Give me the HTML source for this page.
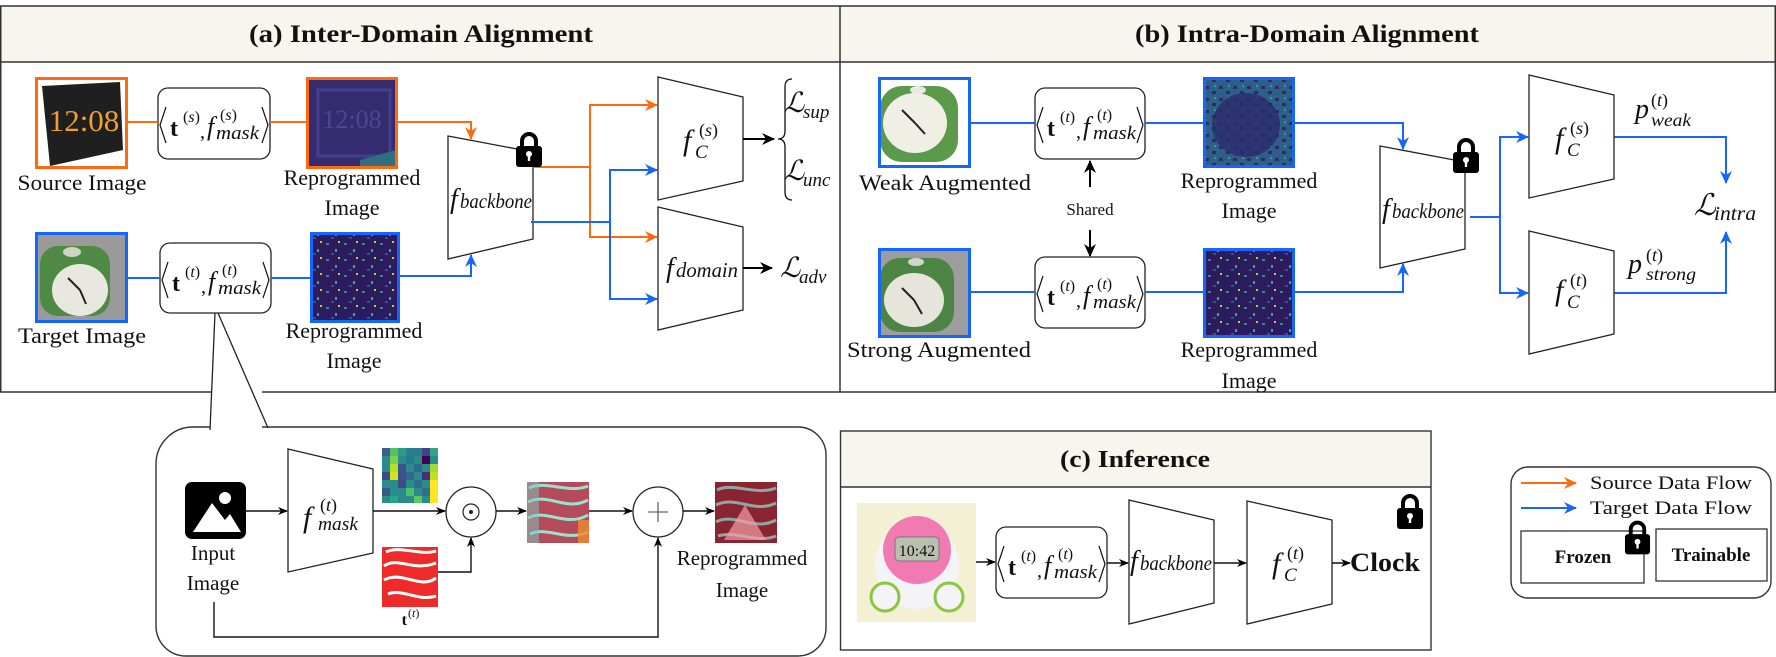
<!DOCTYPE html>
<html><head><meta charset="utf-8"><style>
html,body{margin:0;padding:0;background:#fff}
svg{display:block}
text{font-family:"Liberation Serif","DejaVu Serif",serif;fill:#111}
.i{font-style:italic}
.b{font-weight:bold}
</style></head><body>
<svg width="1776" height="657" viewBox="0 0 1776 657" xmlns="http://www.w3.org/2000/svg">
<defs>
<marker id="ao" markerUnits="userSpaceOnUse" markerWidth="14" markerHeight="12" refX="12" refY="6" orient="auto"><path d="M0,0 L13,6 L0,12 L4,6 z" fill="#ff6a10"/></marker>
<marker id="ab" markerUnits="userSpaceOnUse" markerWidth="14" markerHeight="12" refX="12" refY="6" orient="auto"><path d="M0,0 L13,6 L0,12 L4,6 z" fill="#1466ff"/></marker>
<marker id="ak" markerUnits="userSpaceOnUse" markerWidth="14" markerHeight="12" refX="12" refY="6" orient="auto"><path d="M0,0 L13,6 L0,12 L4,6 z" fill="#000"/></marker>
<marker id="ak2" markerUnits="userSpaceOnUse" markerWidth="10" markerHeight="8" refX="9" refY="4" orient="auto"><path d="M0,0 L10,4 L0,8 L3,4 z" fill="#000"/></marker>
<symbol id="lock" viewBox="0 0 28 36"><path d="M7,17 V10 A7,7 0 0 1 21,10 V17" fill="none" stroke="#000" stroke-width="4"/><rect x="1" y="15" width="26" height="21" rx="3" fill="#000"/><circle cx="14" cy="23" r="3" fill="#fff"/><rect x="12.8" y="23" width="2.4" height="7" fill="#fff"/></symbol>
<pattern id="spk" width="18" height="16" patternUnits="userSpaceOnUse"><rect width="18" height="16" fill="#2c1b5e"/><rect x="2" y="3" width="3" height="2" fill="#2f8a8c"/><rect x="11" y="9" width="2" height="3" fill="#3aa88a"/><rect x="7" y="13" width="3" height="2" fill="#24607e"/><rect x="14" y="1" width="2" height="2" fill="#b8d830"/></pattern>
<pattern id="spk2" width="14" height="12" patternUnits="userSpaceOnUse"><rect width="14" height="12" fill="#2e5f86"/><rect x="1" y="2" width="4" height="3" fill="#2b2a6a"/><rect x="8" y="7" width="4" height="3" fill="#2b2a6a"/><rect x="10" y="1" width="2" height="2" fill="#3c9a90"/></pattern>
</defs>

<rect x="0" y="6" width="1776" height="56" fill="#f7f5ee"/>
<rect x="0.75" y="6" width="1774.5" height="386" fill="none" stroke="#333" stroke-width="1.5"/>
<line x1="0" y1="62" x2="1776" y2="62" stroke="#333" stroke-width="1.5"/>
<line x1="840" y1="6" x2="840" y2="392" stroke="#333" stroke-width="1.5"/>
<text x="421" y="42" class="b" font-size="25" text-anchor="middle" textLength="344" lengthAdjust="spacingAndGlyphs">(a) Inter-Domain Alignment</text>
<text x="1307" y="42" class="b" font-size="25" text-anchor="middle" textLength="344" lengthAdjust="spacingAndGlyphs">(b) Intra-Domain Alignment</text>

<!-- Panel (a) -->
<rect x="35" y="77" width="93" height="92" fill="#fff"/>
<path d="M42,86 L120,82 L123,150 L50,166 Z" fill="#1f1f1f"/>
<text x="84" y="131" font-size="31" font-family="Liberation Sans" text-anchor="middle" style="fill:#f0a030">12:08</text>
<rect x="36.5" y="78.5" width="90" height="89" fill="none" stroke="#ff6a10" stroke-width="3"/>
<text x="82" y="190" font-size="22" text-anchor="middle" textLength="129" lengthAdjust="spacingAndGlyphs">Source Image</text>
<g transform="translate(158,88)">
<rect x="0" y="0" width="112" height="71" rx="10" fill="#fff" stroke="#222" stroke-width="1.3"/>
<polyline points="8,19 2,37 8,55" fill="none" stroke="#111" stroke-width="1.2"/><polyline points="104,19 110,37 104,55" fill="none" stroke="#111" stroke-width="1.2"/>
<text x="12" y="48" font-size="24" class="b">t</text><text x="25" y="34" font-size="16">(<tspan class="i">s</tspan>)</text>
<text x="42" y="50" font-size="20">,</text><text x="49" y="47" font-size="26" class="i">f</text>
<text x="62" y="32" font-size="16">(<tspan class="i">s</tspan>)</text><text x="58" y="51" font-size="19" class="i" textLength="43" lengthAdjust="spacingAndGlyphs">mask</text>
</g>
<rect x="306" y="77" width="92" height="92" fill="#352c70"/>
<rect x="318" y="90" width="72" height="66" fill="none" stroke="#463f8c" stroke-width="3"/>
<text x="352" y="128" font-size="26" font-family="Liberation Sans" text-anchor="middle" style="fill:#4d4596">12:08</text>
<path d="M360,160 L396,150 L396,167 L360,167 Z" fill="#2f6f80"/>
<rect x="307.5" y="78.5" width="89" height="89" fill="none" stroke="#ff6a10" stroke-width="3"/>
<text x="352" y="185" font-size="22" text-anchor="middle">Reprogrammed</text>
<text x="352" y="215" font-size="22" text-anchor="middle">Image</text>
<rect x="35" y="232" width="93" height="91" fill="#9a9a9a"/>
<rect x="40" y="246" width="70" height="70" rx="18" fill="#4f8a45"/>
<ellipse cx="80" cy="290" rx="28" ry="26" fill="#e9e8e0"/>
<ellipse cx="72" cy="252" rx="9" ry="5" fill="#cfd6c8"/>
<line x1="80" y1="290" x2="68" y2="278" stroke="#222" stroke-width="2"/><line x1="80" y1="290" x2="86" y2="304" stroke="#222" stroke-width="2"/>
<rect x="36.5" y="233.5" width="90" height="88" fill="none" stroke="#1466ff" stroke-width="3"/>
<text x="82" y="343" font-size="22" text-anchor="middle" textLength="128" lengthAdjust="spacingAndGlyphs">Target Image</text>
<g transform="translate(160,243)">
<rect x="0" y="0" width="111" height="70" rx="10" fill="#fff" stroke="#222" stroke-width="1.3"/>
<polyline points="8,19 2,37 8,55" fill="none" stroke="#111" stroke-width="1.2"/><polyline points="103,19 109,37 103,55" fill="none" stroke="#111" stroke-width="1.2"/>
<text x="12" y="48" font-size="24" class="b">t</text><text x="25" y="34" font-size="16">(<tspan class="i">t</tspan>)</text>
<text x="41" y="50" font-size="20">,</text><text x="48" y="47" font-size="26" class="i">f</text>
<text x="62" y="32" font-size="16">(<tspan class="i">t</tspan>)</text><text x="58" y="51" font-size="19" class="i" textLength="43" lengthAdjust="spacingAndGlyphs">mask</text>
</g>
<rect x="310" y="232" width="90" height="91" fill="url(#spk)"/>
<rect x="311.5" y="233.5" width="87" height="88" fill="none" stroke="#1466ff" stroke-width="3"/>
<text x="354" y="338" font-size="22" text-anchor="middle">Reprogrammed</text>
<text x="354" y="368" font-size="22" text-anchor="middle">Image</text>

<g fill="none" stroke-width="2">
<path d="M128,122 H158 M270,122 H306" stroke="#ff6a10"/>
<path d="M398,122 H471 V139" stroke="#ff6a10" marker-end="url(#ao)"/>
<path d="M128,278 H160 M271,278 H310" stroke="#1466ff"/>
<path d="M400,276 H471 V255" stroke="#1466ff" marker-end="url(#ab)"/>
</g>
<polygon points="448,136 533,152 533,239 448,259" fill="#fff" stroke="#222" stroke-width="1.3"/>
<text x="450" y="208" font-size="28" class="i">f</text><text x="460" y="208" font-size="21" class="i" textLength="72" lengthAdjust="spacingAndGlyphs">backbone</text>
<g fill="none" stroke-width="2">
<path d="M533,167 H590 V105 H657" stroke="#ff6a10" marker-end="url(#ao)"/>
<path d="M590,167 V237 H657" stroke="#ff6a10" marker-end="url(#ao)"/>
<path d="M531,222 H610 V170 H657" stroke="#1466ff" marker-end="url(#ab)"/>
<path d="M610,222 V299 H657" stroke="#1466ff" marker-end="url(#ab)"/>
</g>
<use href="#lock" x="515" y="131" width="28" height="36"/>
<polygon points="658,77 743,97 743,181 658,200" fill="#fff" stroke="#222" stroke-width="1.3"/>
<text x="683" y="150" font-size="30" class="i">f</text><text x="699" y="136" font-size="18">(<tspan class="i">s</tspan>)</text><text x="695" y="158" font-size="19" class="i">C</text>
<polygon points="658,207 743,227 743,310 658,330" fill="#fff" stroke="#222" stroke-width="1.3"/>
<text x="666" y="277" font-size="28" class="i">f</text><text x="676" y="277" font-size="21" class="i" textLength="62" lengthAdjust="spacingAndGlyphs">domain</text>
<path d="M743,139 H774" stroke="#000" stroke-width="2" marker-end="url(#ak)"/>
<path d="M743,268 H772" stroke="#000" stroke-width="2" marker-end="url(#ak)"/>
<path d="M792,79 Q785,79 785,87 L785,131 Q785,139 778,139 Q785,139 785,147 L785,192 Q785,200 792,200" fill="none" stroke="#111" stroke-width="1.3"/>
<text x="784" y="112" font-size="28" class="i">ℒ</text><text x="803" y="118" font-size="19" class="i">sup</text>
<text x="784" y="180" font-size="28" class="i">ℒ</text><text x="803" y="186" font-size="19" class="i">unc</text>
<text x="780" y="277" font-size="28" class="i">ℒ</text><text x="799" y="283" font-size="19" class="i">adv</text>

<!-- Panel (b) -->
<rect x="878" y="77" width="93" height="91" fill="#fff"/>
<rect x="880" y="86" width="78" height="76" rx="22" fill="#5a9a4a"/>
<ellipse cx="915" cy="123" rx="32" ry="30" fill="#f0efe6"/>
<ellipse cx="918" cy="90" rx="8" ry="4" fill="#e6eadf"/>
<line x1="915" y1="123" x2="902" y2="110" stroke="#222" stroke-width="2"/><line x1="915" y1="123" x2="925" y2="134" stroke="#222" stroke-width="2"/>
<rect x="879.5" y="78.5" width="90" height="88" fill="none" stroke="#1466ff" stroke-width="3"/>
<text x="1031" y="190" font-size="22" text-anchor="end" textLength="172" lengthAdjust="spacingAndGlyphs">Weak Augmented</text>
<g transform="translate(1035,88)">
<rect x="0" y="0" width="110" height="71" rx="10" fill="#fff" stroke="#222" stroke-width="1.3"/>
<polyline points="8,19 2,37 8,55" fill="none" stroke="#111" stroke-width="1.2"/><polyline points="102,19 108,37 102,55" fill="none" stroke="#111" stroke-width="1.2"/>
<text x="12" y="48" font-size="24" class="b">t</text><text x="25" y="34" font-size="16">(<tspan class="i">t</tspan>)</text>
<text x="41" y="50" font-size="20">,</text><text x="48" y="47" font-size="26" class="i">f</text>
<text x="62" y="32" font-size="16">(<tspan class="i">t</tspan>)</text><text x="58" y="51" font-size="19" class="i" textLength="43" lengthAdjust="spacingAndGlyphs">mask</text>
</g>
<path d="M1090,187 V161" stroke="#000" stroke-width="2" marker-end="url(#ak)"/>
<text x="1090" y="215" font-size="17" text-anchor="middle">Shared</text>
<path d="M1090,230 V256" stroke="#000" stroke-width="2" marker-end="url(#ak)"/>
<g transform="translate(1035,257)">
<rect x="0" y="0" width="110" height="71" rx="10" fill="#fff" stroke="#222" stroke-width="1.3"/>
<polyline points="8,19 2,37 8,55" fill="none" stroke="#111" stroke-width="1.2"/><polyline points="102,19 108,37 102,55" fill="none" stroke="#111" stroke-width="1.2"/>
<text x="12" y="48" font-size="24" class="b">t</text><text x="25" y="34" font-size="16">(<tspan class="i">t</tspan>)</text>
<text x="41" y="50" font-size="20">,</text><text x="48" y="47" font-size="26" class="i">f</text>
<text x="62" y="32" font-size="16">(<tspan class="i">t</tspan>)</text><text x="58" y="51" font-size="19" class="i" textLength="43" lengthAdjust="spacingAndGlyphs">mask</text>
</g>
<rect x="1203" y="77" width="92" height="91" fill="url(#spk2)"/>
<ellipse cx="1246" cy="125" rx="34" ry="32" fill="#2c2a6c" opacity="0.8"/>
<rect x="1204.5" y="78.5" width="89" height="88" fill="none" stroke="#1466ff" stroke-width="3"/>
<text x="1249" y="188" font-size="22" text-anchor="middle">Reprogrammed</text>
<text x="1249" y="218" font-size="22" text-anchor="middle">Image</text>
<rect x="878" y="248" width="93" height="90" fill="#9d9d9d"/>
<rect x="880" y="258" width="74" height="74" rx="20" fill="#4c8444"/>
<ellipse cx="914" cy="300" rx="30" ry="27" fill="#e6e5dc"/>
<ellipse cx="916" cy="262" rx="8" ry="4" fill="#d0d6c8"/>
<line x1="914" y1="300" x2="902" y2="288" stroke="#222" stroke-width="2"/><line x1="914" y1="300" x2="922" y2="314" stroke="#222" stroke-width="2"/>
<rect x="879.5" y="249.5" width="90" height="87" fill="none" stroke="#1466ff" stroke-width="3"/>
<text x="1031" y="357" font-size="22" text-anchor="end" textLength="184" lengthAdjust="spacingAndGlyphs">Strong Augmented</text>
<rect x="1203" y="248" width="92" height="90" fill="url(#spk)"/>
<rect x="1204.5" y="249.5" width="89" height="87" fill="none" stroke="#1466ff" stroke-width="3"/>
<text x="1249" y="357" font-size="22" text-anchor="middle">Reprogrammed</text>
<text x="1249" y="388" font-size="22" text-anchor="middle">Image</text>
<g fill="none" stroke-width="2" stroke="#1466ff">
<path d="M971,123 H1035 M1145,123 H1203 M971,292 H1035 M1145,292 H1203"/>
<path d="M1295,123 H1403 V149" marker-end="url(#ab)"/>
<path d="M1295,292 H1403 V264" marker-end="url(#ab)"/>
</g>
<polygon points="1380,146 1465,162 1465,249 1380,268" fill="#fff" stroke="#222" stroke-width="1.3"/>
<text x="1382" y="218" font-size="28" class="i">f</text><text x="1392" y="218" font-size="21" class="i" textLength="72" lengthAdjust="spacingAndGlyphs">backbone</text>
<use href="#lock" x="1452" y="137" width="28" height="36"/>
<g fill="none" stroke-width="2" stroke="#1466ff">
<path d="M1470,217 H1500 V137 H1528" marker-end="url(#ab)"/>
<path d="M1500,217 V293 H1528" marker-end="url(#ab)"/>
<path d="M1614,137 H1726 V183" marker-end="url(#ab)"/>
<path d="M1614,293 H1726 V232" marker-end="url(#ab)"/>
</g>
<polygon points="1529,75 1614,95 1614,179 1529,198" fill="#fff" stroke="#222" stroke-width="1.3"/>
<text x="1555" y="148" font-size="30" class="i">f</text><text x="1570" y="134" font-size="18">(<tspan class="i">s</tspan>)</text><text x="1567" y="156" font-size="19" class="i">C</text>
<polygon points="1529,231 1614,251 1614,334 1529,354" fill="#fff" stroke="#222" stroke-width="1.3"/>
<text x="1555" y="300" font-size="30" class="i">f</text><text x="1570" y="286" font-size="18">(<tspan class="i">t</tspan>)</text><text x="1567" y="308" font-size="19" class="i">C</text>
<text x="1635" y="118" font-size="28" class="i">p</text><text x="1651" y="106" font-size="18">(<tspan class="i">t</tspan>)</text><text x="1651" y="126" font-size="18" class="i" textLength="40" lengthAdjust="spacingAndGlyphs">weak</text>
<text x="1628" y="273" font-size="28" class="i">p</text><text x="1646" y="261" font-size="18">(<tspan class="i">t</tspan>)</text><text x="1646" y="280" font-size="18" class="i" textLength="50" lengthAdjust="spacingAndGlyphs">strong</text>
<text x="1694" y="215" font-size="30" class="i">ℒ</text><text x="1714" y="220" font-size="20" class="i" textLength="42" lengthAdjust="spacingAndGlyphs">intra</text>

<!-- Inset -->
<rect x="211" y="388" width="51" height="8" fill="#fff"/>
<path d="M210,427 L193,427 A37,37 0 0 0 156,464 L156,626 A30,30 0 0 0 186,656 L798,656 A28,28 0 0 0 826,628 L826,455 A28,28 0 0 0 798,427 L262,427" fill="none" stroke="#333" stroke-width="1.4"/>
<path d="M215,313 L210,430 M218,313 L268,428" stroke="#222" stroke-width="1.3" fill="none"/>
<rect x="185" y="482" width="61" height="57" rx="7" fill="#000"/>
<polygon points="193,532 212,503 225,520 230,514 241,532" fill="#fff"/>
<circle cx="225" cy="498" r="6" fill="#fff"/>
<text x="213" y="560" font-size="21" text-anchor="middle">Input</text>
<text x="213" y="590" font-size="21" text-anchor="middle">Image</text>
<polygon points="288,449 373,469 373,553 288,572" fill="#fff" stroke="#222" stroke-width="1.3"/>
<text x="303" y="527" font-size="30" class="i">f</text><text x="320" y="511" font-size="18">(<tspan class="i">t</tspan>)</text><text x="318" y="530" font-size="19" class="i" textLength="40" lengthAdjust="spacingAndGlyphs">mask</text>
<g>
<rect x="382" y="448" width="56" height="55" fill="#2a8c8a"/>
<rect x="382" y="448" width="8" height="8" fill="#3d5f8e"/><rect x="390" y="448" width="8" height="8" fill="#55c068"/><rect x="398" y="448" width="8" height="8" fill="#2b9a86"/><rect x="406" y="448" width="8" height="8" fill="#25818e"/><rect x="414" y="448" width="8" height="8" fill="#2c7b8e"/><rect x="422" y="448" width="8" height="8" fill="#414487"/><rect x="430" y="448" width="8" height="8" fill="#33a484"/>
<rect x="390" y="456" width="8" height="8" fill="#7ad151"/><rect x="406" y="456" width="8" height="8" fill="#2a788e"/><rect x="422" y="456" width="8" height="8" fill="#440154"/>
<rect x="390" y="464" width="8" height="8" fill="#b5de2b"/><rect x="398" y="464" width="8" height="8" fill="#3b528b"/><rect x="414" y="464" width="8" height="8" fill="#31688e"/><rect x="430" y="464" width="8" height="8" fill="#a0da39"/>
<rect x="382" y="472" width="8" height="8" fill="#3e4a89"/><rect x="390" y="472" width="8" height="8" fill="#d8e219"/><rect x="398" y="472" width="8" height="8" fill="#3b528b"/><rect x="406" y="472" width="8" height="8" fill="#31688e"/><rect x="422" y="472" width="8" height="8" fill="#472d7b"/><rect x="430" y="472" width="8" height="8" fill="#c2df23"/>
<rect x="398" y="480" width="8" height="8" fill="#3e4989"/><rect x="414" y="480" width="8" height="8" fill="#2f6c8e"/><rect x="430" y="480" width="8" height="8" fill="#fde725"/>
<rect x="382" y="488" width="8" height="8" fill="#38588c"/><rect x="406" y="488" width="8" height="8" fill="#4ac16d"/><rect x="422" y="488" width="8" height="8" fill="#2d708e"/><rect x="430" y="488" width="8" height="8" fill="#fde725"/>
<rect x="390" y="496" width="8" height="7" fill="#22a884"/><rect x="414" y="496" width="8" height="7" fill="#5ec962"/><rect x="430" y="496" width="8" height="7" fill="#fde725"/>
</g>
<rect x="382" y="547" width="56" height="60" fill="#ee2a2a"/>
<path d="M386,552 C400,545 420,556 436,551 M384,566 C398,556 412,572 436,563 M384,580 C402,570 420,590 436,578 M388,594 C402,588 418,602 436,596" fill="none" stroke="#fff" stroke-width="3"/>
<text x="407" y="625" font-size="16" class="b" text-anchor="end">t</text><text x="408" y="617" font-size="12">(<tspan class="i">t</tspan>)</text>
<circle cx="471" cy="512" r="25" fill="#fff" stroke="#222" stroke-width="1.3"/>
<circle cx="471" cy="512" r="8" fill="none" stroke="#222" stroke-width="1.2"/><circle cx="471" cy="512" r="2" fill="#222"/>
<rect x="527" y="482" width="62" height="61" fill="#b44a5a"/>
<path d="M529,488 C545,480 570,494 588,486 M528,502 C548,492 566,512 588,500 M528,518 C546,508 566,528 588,515 M530,534 C548,526 566,542 588,532" fill="none" stroke="#9be0d0" stroke-width="3"/>
<rect x="527" y="482" width="12" height="61" fill="#7fc8c0" opacity="0.5"/><rect x="578" y="520" width="11" height="23" fill="#f08a30" opacity="0.8"/>
<circle cx="658" cy="512" r="25" fill="#fff" stroke="#222" stroke-width="1.3"/>
<path d="M648,512 H668 M658,502 V522" stroke="#666" stroke-width="1.3"/>
<rect x="715" y="482" width="62" height="61" fill="#8a2430"/>
<path d="M717,490 C733,482 756,496 776,488 M716,505 C736,495 754,514 776,503 M716,522 C734,512 754,532 776,520 M718,536 C736,530 756,544 776,536" fill="none" stroke="#8fc8c0" stroke-width="3" opacity="0.8"/>
<polygon points="724,540 745,505 766,540" fill="#f0a0a8" opacity="0.7"/>
<text x="742" y="565" font-size="21" text-anchor="middle">Reprogrammed</text>
<text x="742" y="597" font-size="21" text-anchor="middle">Image</text>
<g fill="none" stroke="#111" stroke-width="1.4">
<path d="M246,511 H287" marker-end="url(#ak2)"/>
<path d="M373,511 H445" marker-end="url(#ak2)"/>
<path d="M438,572 H471 V538" marker-end="url(#ak2)"/>
<path d="M496,511 H526" marker-end="url(#ak2)"/>
<path d="M589,511 H632" marker-end="url(#ak2)"/>
<path d="M683,511 H714" marker-end="url(#ak2)"/>
<path d="M214,602 V637 H658 V538" marker-end="url(#ak2)"/>
</g>

<!-- (c) -->
<rect x="840" y="431" width="591" height="56" fill="#f7f5ee"/>
<rect x="840.5" y="431" width="590.5" height="219" fill="none" stroke="#333" stroke-width="1.4"/>
<line x1="840" y1="487" x2="1431" y2="487" stroke="#333" stroke-width="1.4"/>
<text x="1135" y="467" class="b" font-size="24" text-anchor="middle" textLength="150" lengthAdjust="spacingAndGlyphs">(c) Inference</text>
<rect x="857" y="503" width="119" height="119" fill="#f4f0d4"/>
<ellipse cx="917" cy="565" rx="42" ry="44" fill="#f4f4f8"/>
<circle cx="917" cy="550" r="34" fill="#f27ab2"/>
<rect x="895" y="537" width="44" height="24" rx="4" fill="#b9c0b0" stroke="#777"/>
<text x="917" y="556" font-size="16" font-family="Liberation Sans" text-anchor="middle">10:42</text>
<circle cx="885" cy="597" r="14" fill="#f4f4f8" stroke="#8cc63f" stroke-width="3"/>
<circle cx="949" cy="597" r="14" fill="#f4f4f8" stroke="#8cc63f" stroke-width="3"/>
<g transform="translate(996,527)">
<rect x="0" y="0" width="111" height="71" rx="10" fill="#fff" stroke="#222" stroke-width="1.3"/>
<polyline points="8,19 2,37 8,55" fill="none" stroke="#111" stroke-width="1.2"/><polyline points="103,19 109,37 103,55" fill="none" stroke="#111" stroke-width="1.2"/>
<text x="12" y="48" font-size="24" class="b">t</text><text x="25" y="34" font-size="16">(<tspan class="i">t</tspan>)</text>
<text x="41" y="50" font-size="20">,</text><text x="48" y="47" font-size="26" class="i">f</text>
<text x="62" y="32" font-size="16">(<tspan class="i">t</tspan>)</text><text x="58" y="51" font-size="19" class="i" textLength="43" lengthAdjust="spacingAndGlyphs">mask</text>
</g>
<polygon points="1129,500 1214,520 1214,603 1129,624" fill="#fff" stroke="#222" stroke-width="1.3"/>
<text x="1130" y="570" font-size="28" class="i">f</text><text x="1140" y="570" font-size="21" class="i" textLength="72" lengthAdjust="spacingAndGlyphs">backbone</text>
<polygon points="1247,501 1332,520 1332,604 1247,624" fill="#fff" stroke="#222" stroke-width="1.3"/>
<text x="1272" y="573" font-size="30" class="i">f</text><text x="1287" y="559" font-size="18">(<tspan class="i">t</tspan>)</text><text x="1284" y="581" font-size="19" class="i">C</text>
<g fill="none" stroke="#111" stroke-width="1.5">
<path d="M976,562 H995" marker-end="url(#ak2)"/>
<path d="M1107,563 H1128" marker-end="url(#ak2)"/>
<path d="M1214,563 H1246" marker-end="url(#ak2)"/>
<path d="M1332,563 H1350" marker-end="url(#ak2)"/>
</g>
<text x="1350" y="571" class="b" font-size="26" textLength="70" lengthAdjust="spacingAndGlyphs">Clock</text>
<use href="#lock" x="1396" y="493" width="28" height="36"/>

<!-- Legend -->
<rect x="1511" y="467" width="260" height="131" rx="17" fill="#fff" stroke="#333" stroke-width="1.4"/>
<path d="M1521,483 H1576" stroke="#ff6a10" stroke-width="2" marker-end="url(#ao)"/>
<path d="M1521,508 H1576" stroke="#1466ff" stroke-width="2" marker-end="url(#ab)"/>
<text x="1590" y="489" font-size="19" textLength="162" lengthAdjust="spacingAndGlyphs">Source Data Flow</text>
<text x="1590" y="514" font-size="19" textLength="162" lengthAdjust="spacingAndGlyphs">Target Data Flow</text>
<rect x="1521" y="531" width="123" height="52" fill="#fff" stroke="#333" stroke-width="1.3"/>
<text x="1583" y="563" class="b" font-size="19" text-anchor="middle">Frozen</text>
<use href="#lock" x="1624" y="519" width="27" height="36"/>
<rect x="1656" y="529" width="111" height="52" fill="#fff" stroke="#333" stroke-width="1.3"/>
<text x="1711" y="561" class="b" font-size="19" text-anchor="middle">Trainable</text>
</svg>
</body></html>
